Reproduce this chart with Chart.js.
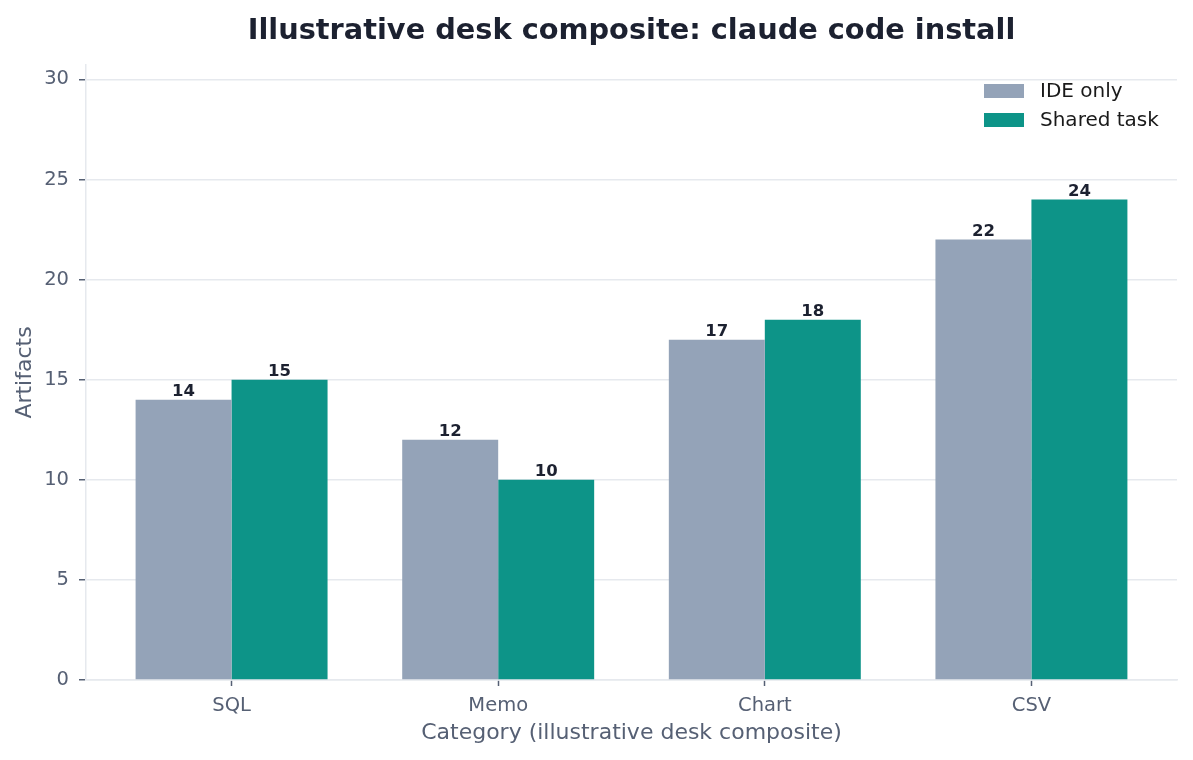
<!DOCTYPE html>
<html>
<head>
<meta charset="utf-8">
<script src="https://cdn.jsdelivr.net/npm/chart.js@4"></script>
<style>
  html, body { margin: 0; padding: 0; background: #ffffff; }
  #wrap { width: 1193px; height: 760px; }
</style>
</head>
<body>
<div id="wrap"><canvas id="myChart"></canvas></div>
<script>
// data

var chartTitle   = "Illustrative desk composite: claude code install";
var categories   = ["SQL", "Memo", "Chart", "CSV"];
var ideOnly      = [14, 12, 17, 22];
var sharedTask   = [15, 10, 18, 24];
var seriesLabels = ["IDE only", "Shared task"];
var yTicks       = [0, 5, 10, 15, 20, 25, 30];

// style

var fontFamily = "'DejaVu Sans', sans-serif";
var tickColor  = "#566074";
var gridColor  = "#e6e9ee";
var darkText   = "#1c2130";

function toPoints(values)
{
    return values.map(function(v, i) { return { x: i, y: v }; });
}

// title centered over the plot area (not the whole canvas)
var plotTitle = {
    id: "plotTitle",
    afterDraw: function(chart) {
        var ctx = chart.ctx;
        var area = chart.chartArea;
        ctx.save();
        ctx.font = "bold 28.8px " + fontFamily;
        ctx.fillStyle = darkText;
        ctx.textAlign = "center";
        ctx.textBaseline = "middle";
        ctx.fillText(chartTitle, (area.left + area.right) / 2, 32);
        ctx.restore();
    }
};

// value labels over bars
var valueLabels = {
    id: "valueLabels",
    afterDatasetsDraw: function(chart) {
        var ctx = chart.ctx;
        ctx.save();
        ctx.font = "bold 16.5px " + fontFamily;
        ctx.fillStyle = darkText;
        ctx.textAlign = "center";
        ctx.textBaseline = "alphabetic";
        chart.data.datasets.forEach(function(ds, di) {
            var meta = chart.getDatasetMeta(di);
            meta.data.forEach(function(bar, i) {
                ctx.fillText(String(ds.data[i].y), bar.x, bar.y - 4);
            });
        });
        ctx.restore();
    }
};

// legend inside plot, upper right
var innerLegend = {
    id: "innerLegend",
    afterDraw: function(chart) {
        var ctx = chart.ctx;
        var area = chart.chartArea;
        var x = area.right - 193;
        var y = area.top + 19;
        ctx.save();
        ctx.font = "20px " + fontFamily;
        ctx.textBaseline = "middle";
        ctx.textAlign = "left";
        chart.data.datasets.forEach(function(ds, di) {
            var top = y + di * 29;
            ctx.fillStyle = ds.backgroundColor;
            ctx.fillRect(x, top, 40, 14);
            ctx.fillStyle = "#1a1a1a";
            ctx.fillText(ds.label, x + 56, top + 8);
        });
        ctx.restore();
    }
};

var ctx1 = document.getElementById("myChart");

var myChart = new Chart(ctx1.getContext("2d"), {
    type: "bar",
    data: {
        datasets: [{
            label: seriesLabels[0],
            data: toPoints(ideOnly),
            backgroundColor: "#94a3b8",
            categoryPercentage: 0.72,
            barPercentage: 1.0
        }, {
            label: seriesLabels[1],
            data: toPoints(sharedTask),
            backgroundColor: "#0d9488",
            categoryPercentage: 0.72,
            barPercentage: 1.0
        }]
    },
    options: {
        responsive: true,
        maintainAspectRatio: false,
        animation: false,
        layout: { padding: { left: 0, right: 16, top: 65, bottom: 0 } },
        plugins: {
            legend: { display: false },
            tooltip: { enabled: false },
            title: { display: false }
        },
        scales: {
            x: {
                type: "linear",
                offset: false,
                min: -0.546,
                max: 3.546,
                afterBuildTicks: function(scale) {
                    scale.ticks = categories.map(function(c, i) { return { value: i }; });
                },
                afterFit: function(scale) { scale.height = 80; },
                ticks: {
                    color: tickColor,
                    font: { family: fontFamily, size: 19.5 },
                    padding: 8,
                    maxRotation: 0,
                    callback: function(value) { return categories[value]; }
                },
                grid: {
                    offset: false,
                    drawOnChartArea: false,
                    drawTicks: true,
                    tickLength: 6,
                    tickColor: tickColor,
                    tickWidth: 1.5
                },
                border: { display: true, color: gridColor, width: 1.5 },
                title: {
                    display: true,
                    text: "Category (illustrative desk composite)",
                    color: tickColor,
                    font: { family: fontFamily, size: 22 },
                    padding: { top: 0, bottom: 14 }
                }
            },
            y: {
                min: 0,
                max: 30.72,
                afterBuildTicks: function(scale) {
                    scale.ticks = yTicks.map(function(v) { return { value: v }; });
                },
                afterFit: function(scale) { scale.width = 86; },
                ticks: {
                    color: tickColor,
                    font: { family: fontFamily, size: 19.5 },
                    padding: 10
                },
                grid: {
                    color: gridColor,
                    lineWidth: 1.5,
                    drawTicks: true,
                    tickLength: 7,
                    tickColor: tickColor,
                    tickWidth: 1.5
                },
                border: { display: true, color: gridColor, width: 1.5 },
                title: {
                    display: true,
                    text: "Artifacts",
                    color: tickColor,
                    font: { family: fontFamily, size: 22 },
                    padding: { top: 12, bottom: 0 }
                }
            }
        }
    },
    plugins: [plotTitle, valueLabels, innerLegend]
});
</script>
</body>
</html>
